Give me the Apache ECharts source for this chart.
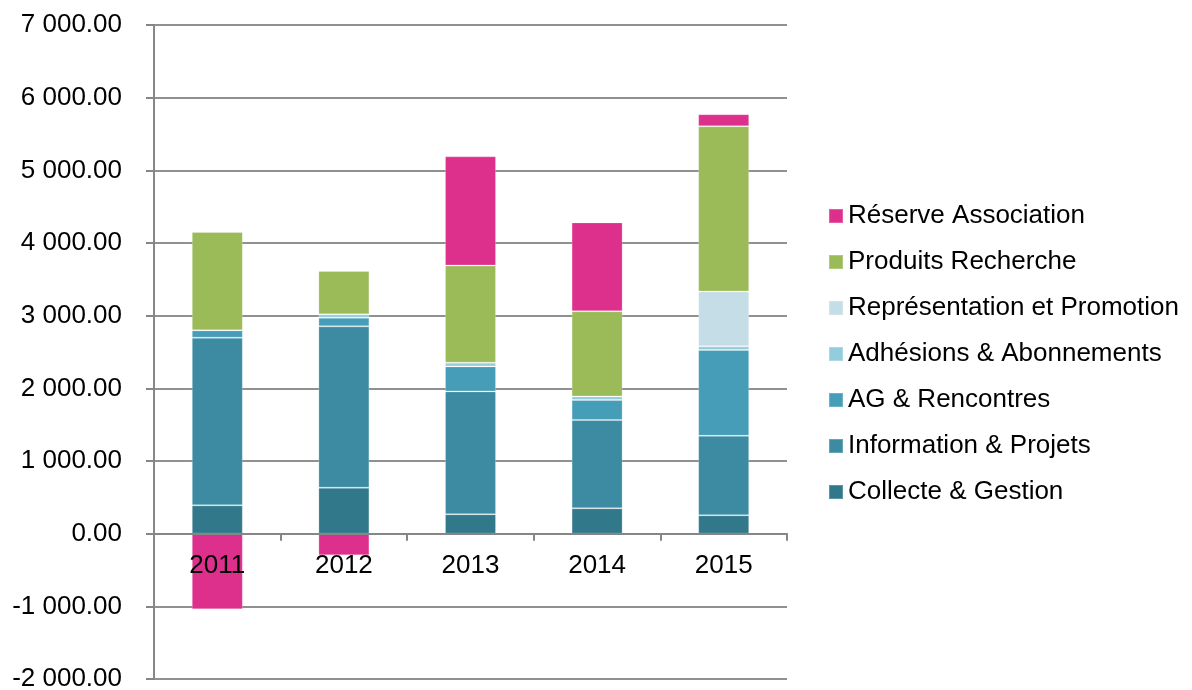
<!DOCTYPE html>
<html>
<head>
<meta charset="utf-8">
<script src="https://cdn.jsdelivr.net/npm/echarts@6/dist/echarts.min.js"></script>
<style>
  html, body { margin: 0; padding: 0; background: #ffffff; }
  #chart { width: 1192px; height: 690px; }
</style>
</head>
<body>
<div id="chart"></div>
<script>
// Budget par poste, 2011–2015
const years = ['2011', '2012', '2013', '2014', '2015'];

const collecteGestion      = [390, 633, 267, 349, 253];
const informationProjets   = [2307, 2220, 1691, 1214, 1094];
const agRencontres         = [101, 119, 344, 275, 1181];
const adhesionsAbonnements = [0, 46, 51, 51, 50];
const representationPromo  = [0, 0, 0, 0, 754];
const produitsRecherche    = [1353, 597, 1337, 1172, 2275];
const reserveAssociation   = [-1041, -298, 1503, 1222, 165];

const yTicks = { min: -2000, max: 7000, step: 1000 };

const FONT = '"Liberation Sans", Arial, sans-serif';
const FONT_SIZE = 26;

const GRID = { left: 154, right: 405, top: 25, bottom: 11 };
const CHART_H = 690;

function fmtNumber(v) {
  const neg = v < 0;
  const parts = Math.abs(v).toFixed(2).split('.');
  const intPart = parts[0].replace(/\B(?=(\d{3})+(?!\d))/g, ' ');
  return (neg ? '-' : '') + intPart + '.' + parts[1];
}

// The category axis sits on the zero line, labels just below it.
const plotH = CHART_H - GRID.top - GRID.bottom;
const zeroOffset = -plotH * (0 - yTicks.min) / (yTicks.max - yTicks.min);

const seriesDefs = [
  { name: 'Collecte & Gestion',            data: collecteGestion,      color: '#31788b' },
  { name: 'Information & Projets',         data: informationProjets,   color: '#3c8ba3' },
  { name: 'AG & Rencontres',               data: agRencontres,         color: '#459db7' },
  { name: 'Adhésions & Abonnements',       data: adhesionsAbonnements, color: '#93cddd' },
  { name: 'Représentation et Promotion',   data: representationPromo,  color: '#c5dde6' },
  { name: 'Produits Recherche',            data: produitsRecherche,    color: '#9bbb59' },
  { name: 'Réserve Association',           data: reserveAssociation,   color: '#dd2f8c' }
];

const chart = echarts.init(document.getElementById('chart'), null, { renderer: 'canvas' });

chart.setOption({
  animation: false,
  backgroundColor: '#ffffff',
  grid: Object.assign({ containLabel: false, outerBoundsMode: 'none' }, GRID),
  legend: {
    orient: 'vertical',
    left: 823,
    top: 198,
    icon: 'rect',
    itemWidth: 14,
    itemHeight: 14,
    itemGap: 20,
    textStyle: { fontFamily: FONT, fontSize: FONT_SIZE, color: '#000000', lineHeight: 26 },
    data: seriesDefs.map(s => s.name).reverse()
  },
  xAxis: {
    type: 'category',
    data: years,
    z: 10,
    position: 'bottom',
    offset: zeroOffset,
    axisLine: { show: true, onZero: false, lineStyle: { color: '#868686', width: 2 } },
    axisTick: { show: true, length: 7, lineStyle: { color: '#868686', width: 2 } },
    axisLabel: { fontFamily: FONT, fontSize: FONT_SIZE, color: '#000000', margin: 19 },
    splitLine: { show: false }
  },
  yAxis: {
    type: 'value',
    min: yTicks.min,
    max: yTicks.max,
    interval: yTicks.step,
    axisLine: { show: true, lineStyle: { color: '#868686', width: 2 } },
    axisTick: { show: true, length: 8, lineStyle: { color: '#868686', width: 2 } },
    axisLabel: { fontFamily: FONT, fontSize: FONT_SIZE, color: '#000000', margin: 32, formatter: fmtNumber },
    splitLine: { show: true, lineStyle: { color: '#909090', width: 2 } }
  },
  series: seriesDefs.map(s => ({
    name: s.name,
    type: 'bar',
    stack: 'total',
    barWidth: 51,
    data: s.data,
    itemStyle: { color: s.color, borderColor: 'rgba(255,255,255,0.22)', borderWidth: 1 },
    emphasis: { disabled: true }
  }))
});
</script>
</body>
</html>
